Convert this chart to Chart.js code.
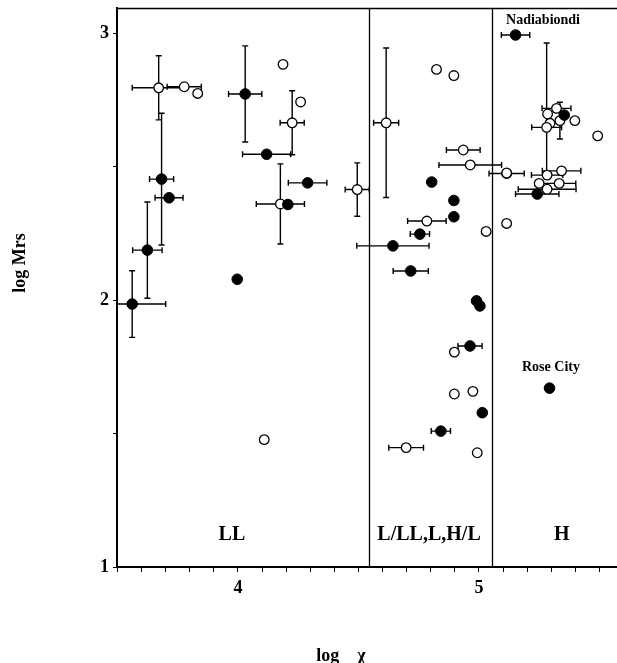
<!DOCTYPE html>
<html>
<head>
<meta charset="utf-8">
<script src="https://cdn.jsdelivr.net/npm/chart.js@4.4.1/dist/chart.umd.min.js"></script>
<style>
  html, body { margin: 0; padding: 0; background: #fff; }
  #wrap { width: 617px; height: 663px; }
</style>
</head>
<body>
<div id="wrap"><canvas id="c" width="617" height="663"></canvas></div>
<script>
// ---------- data (log χ, log Mrs) ----------
// filled circles
const filledX = [4.030, 4.119, 3.683, 3.714, 3.624, 3.997, 4.207, 4.289, 3.561, 4.643,
                 4.804, 4.896, 4.896, 4.755, 4.717, 4.990, 5.004, 5.152, 5.354, 5.242,
                 5.293, 4.963, 5.014, 4.842];
const filledY = [2.772, 2.546, 2.453, 2.383, 2.187, 2.078, 2.358, 2.439, 1.985, 2.203,
                 2.442, 2.373, 2.312, 2.247, 2.109, 1.997, 1.978, 2.993, 2.693, 2.397,
                 1.670, 1.828, 1.578, 1.509];
const filledXErr = [0.069, 0.100, 0.050, 0.058, 0.061, 0, 0, 0.080, 0.139, 0.150,
                    0, 0, 0, 0.040, 0.073, 0, 0, 0.059, 0, 0.090,
                    0, 0.050, 0, 0.040];
const filledYErr = [0.180, 0, 0.247, 0, 0.180, 0, 0, 0, 0.125, 0,
                    0, 0, 0, 0, 0, 0, 0, 0, 0, 0,
                    0, 0, 0, 0];

// open circles
const openX = [3.671, 3.777, 3.833, 4.187, 4.260, 4.225, 4.176, 4.495, 4.109, 4.615,
               4.824, 4.896, 4.935, 4.964, 5.115, 4.784, 5.030, 5.115, 4.898, 4.898,
               4.975, 4.698, 4.993, 5.322, 5.285, 5.336, 5.398, 5.295, 5.281, 5.493,
               5.343, 5.283, 5.250, 5.333, 5.283, 5.115];
const openY = [2.795, 2.799, 2.774, 2.883, 2.742, 2.664, 2.360, 2.414, 1.477, 2.664,
               2.864, 2.841, 2.562, 2.506, 2.474, 2.296, 2.257, 2.287, 1.805, 1.648,
               1.658, 1.447, 1.428, 2.718, 2.697, 2.672, 2.672, 2.662, 2.647, 2.615,
               2.484, 2.468, 2.437, 2.437, 2.415, 2.476];
const openXErr = [0.110, 0.071, 0, 0, 0, 0.050, 0.100, 0.050, 0, 0.052,
                  0, 0, 0.070, 0.130, 0.073, 0.080, 0, 0, 0, 0,
                  0, 0.072, 0, 0.060, 0, 0, 0, 0, 0.062, 0,
                  0.080, 0.065, 0, 0.069, 0.120, 0];
// number = symmetric, [minus, plus] = asymmetric
const openYErr = [0.120, 0, 0, 0, 0, 0.120, 0.150, 0.100, 0, 0.280,
                  0, 0, 0, 0, 0, 0, 0, 0, 0, 0,
                  0, 0, 0, 0, 0, 0.069, 0, 0, [0.179, 0.316], 0,
                  0, 0, 0, 0, 0, 0];

// axis ticks
const xTickValues = [3.5, 3.6, 3.7, 3.8, 3.9, 4.0, 4.1, 4.2, 4.3, 4.4, 4.5,
                     4.6, 4.7, 4.8, 4.9, 5.0, 5.1, 5.2, 5.3, 5.4, 5.5];
const xTickLabels = ['', '', '', '', '', '4', '', '', '', '', '',
                     '', '', '', '', '5', '', '', '', '', ''];
const yTickValues = [1, 1.5, 2, 2.5, 3];
const yTickLabels = ['1', '', '2', '', '3'];
const xAxisTitle = 'log    χ';
const yAxisTitle = 'log Mrs';

// group boundaries and labels
const boundaries = [4.544, 5.055];
const groupNames = ['LL', 'L/LL,L,H/L', 'H'];
const groupNameX = [3.975, 4.793, 5.344];
const groupNameY = [1.12, 1.12, 1.12];
const noteNames = ['Nadiabiondi', 'Rose City'];
const noteX = [5.266, 5.299];
const noteY = [3.049, 1.749];

// ---------- drawing ----------
const SERIF = "'Liberation Serif', 'Times New Roman', serif";

function toPts(xs, ys) { return xs.map((x, i) => ({ x: x, y: ys[i] })); }
function noPad(scale) {
  scale.paddingLeft = 0; scale.paddingRight = 0;
  scale.paddingTop = 0; scale.paddingBottom = 0;
}

const errorBarPlugin = {
  id: 'errorBars',
  beforeDatasetsDraw(chart) {
    const { ctx, chartArea, scales: { x, y } } = chart;
    ctx.save();
    ctx.beginPath();
    ctx.rect(chartArea.left, chartArea.top - 2, chartArea.right - chartArea.left, chartArea.bottom - chartArea.top + 2);
    ctx.clip();
    // boundaries
    ctx.strokeStyle = '#000';
    ctx.lineWidth = 1.3;
    boundaries.forEach(b => {
      const px = Math.round(x.getPixelForValue(b)) + 0.5;
      ctx.beginPath();
      ctx.moveTo(px, chartArea.top);
      ctx.lineTo(px, chartArea.bottom);
      ctx.stroke();
    });
    const cap = 3;
    ctx.lineWidth = 1.4;
    const sets = [
      [filledX, filledY, filledXErr, filledYErr],
      [openX, openY, openXErr, openYErr]
    ];
    sets.forEach(([xs, ys, xe, ye]) => {
      xs.forEach((xv, i) => {
        const yv = ys[i];
        const px = x.getPixelForValue(xv);
        const py = y.getPixelForValue(yv);
        const ex = xe[i];
        if (ex) {
          const m = Array.isArray(ex) ? ex[0] : ex;
          const p = Array.isArray(ex) ? ex[1] : ex;
          const x1 = x.getPixelForValue(xv - m), x2 = x.getPixelForValue(xv + p);
          ctx.beginPath();
          ctx.moveTo(x1, py); ctx.lineTo(x2, py);
          ctx.moveTo(x1, py - cap); ctx.lineTo(x1, py + cap);
          ctx.moveTo(x2, py - cap); ctx.lineTo(x2, py + cap);
          ctx.stroke();
        }
        const ey = ye[i];
        if (ey) {
          const m = Array.isArray(ey) ? ey[0] : ey;
          const p = Array.isArray(ey) ? ey[1] : ey;
          const y1 = y.getPixelForValue(yv - m), y2 = y.getPixelForValue(yv + p);
          ctx.beginPath();
          ctx.moveTo(px, y1); ctx.lineTo(px, y2);
          ctx.moveTo(px - cap, y1); ctx.lineTo(px + cap, y1);
          ctx.moveTo(px - cap, y2); ctx.lineTo(px + cap, y2);
          ctx.stroke();
        }
      });
    });
    ctx.restore();
  },
  afterDatasetsDraw(chart) {
    const { ctx, chartArea, scales: { x, y } } = chart;
    ctx.save();
    // top frame line
    ctx.strokeStyle = '#000';
    ctx.lineWidth = 1.5;
    ctx.beginPath();
    ctx.moveTo(chartArea.left, chartArea.top + 0.5);
    ctx.lineTo(chartArea.right, chartArea.top + 0.5);
    ctx.stroke();
    ctx.fillStyle = '#000';
    ctx.textAlign = 'center';
    ctx.textBaseline = 'middle';
    ctx.font = 'bold 20px ' + SERIF;
    groupNames.forEach((t, i) => {
      ctx.fillText(t, x.getPixelForValue(groupNameX[i]), y.getPixelForValue(groupNameY[i]));
    });
    ctx.font = 'bold 14px ' + SERIF;
    noteNames.forEach((t, i) => {
      ctx.fillText(t, x.getPixelForValue(noteX[i]), y.getPixelForValue(noteY[i]));
    });
    // axis titles (placed as in the source figure, off-centre)
    ctx.font = 'bold 18px ' + SERIF;
    ctx.fillText(xAxisTitle, chartArea.left + 224, chart.height - 7);
    ctx.translate(20, chartArea.top + 255);
    ctx.rotate(-Math.PI / 2);
    ctx.fillText(yAxisTitle, 0, 0);
    ctx.restore();
  }
};

new Chart(document.getElementById('c'), {
  type: 'scatter',
  data: {
    datasets: [
      {
        label: 'filled',
        data: toPts(filledX, filledY),
        pointRadius: 5.3,
        pointBackgroundColor: '#000',
        pointBorderColor: '#000',
        pointBorderWidth: 1,
        pointHoverRadius: 5.3
      },
      {
        label: 'open',
        data: toPts(openX, openY),
        pointRadius: 4.8,
        pointBackgroundColor: '#fff',
        pointBorderColor: '#000',
        pointBorderWidth: 1.3,
        pointHoverRadius: 4.8
      }
    ]
  },
  options: {
    responsive: false,
    devicePixelRatio: 1,
    animation: false,
    events: [],
    layout: { autoPadding: false, padding: { left: 30, right: 0, top: 8, bottom: 0 } },
    plugins: {
      legend: { display: false },
      tooltip: { enabled: false },
      title: { display: false }
    },
    scales: {
      x: {
        type: 'linear',
        position: 'bottom',
        min: 3.498,
        max: 5.573,
        afterBuildTicks: (scale) => { scale.ticks = xTickValues.map(v => ({ value: v })); },
        afterFit: (scale) => { scale.height = 96; noPad(scale); },
        ticks: {
          autoSkip: false,
          maxRotation: 0,
          padding: 6,
          color: '#000',
          font: { family: SERIF, size: 18, weight: 'bold' },
          callback: (value, index) => xTickLabels[index]
        },
        grid: { drawOnChartArea: false, drawTicks: true, tickLength: 5, color: '#000', lineWidth: 1 },
        border: { display: true, color: '#000', width: 2 },
        title: { display: false }
      },
      y: {
        type: 'linear',
        min: 1,
        max: 3.094,
        afterBuildTicks: (scale) => { scale.ticks = yTickValues.map(v => ({ value: v })); },
        afterFit: (scale) => { scale.width = 87; noPad(scale); },
        ticks: {
          autoSkip: false,
          padding: 4,
          color: '#000',
          font: { family: SERIF, size: 18, weight: 'bold' },
          callback: (value, index) => yTickLabels[index]
        },
        grid: { drawOnChartArea: false, drawTicks: true, tickLength: 4, color: '#000', lineWidth: 1 },
        border: { display: true, color: '#000', width: 2 },
        title: { display: false }
      }
    }
  },
  plugins: [errorBarPlugin]
});
</script>
</body>
</html>
